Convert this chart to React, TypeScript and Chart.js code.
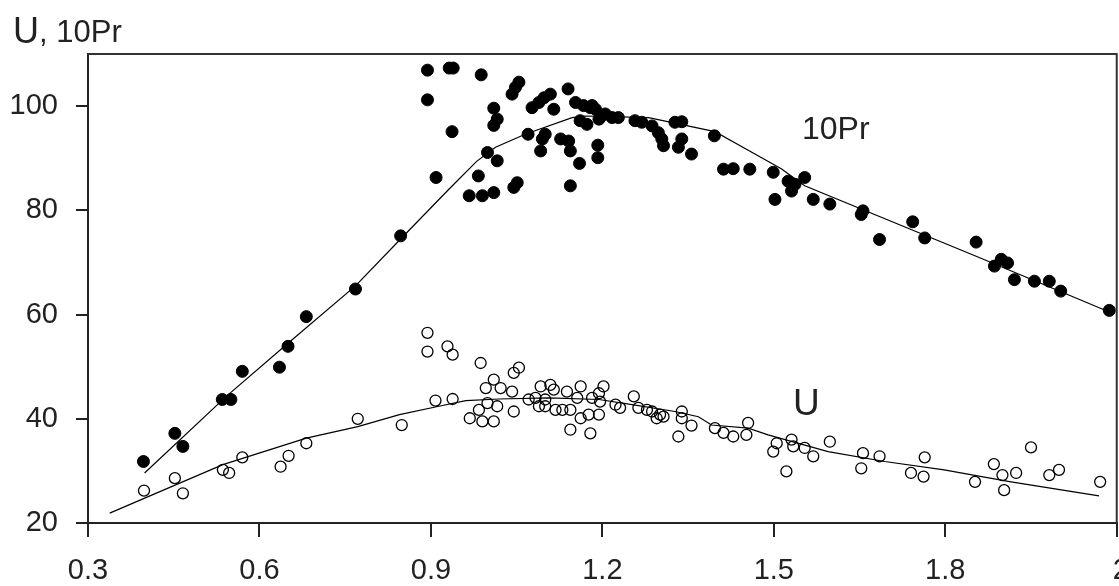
import React, { useEffect, useRef } from "react";
import { Chart, registerables } from "chart.js";

Chart.register(...registerables);

// Tick labels
const xTicks = [0.3, 0.6, 0.9, 1.2, 1.5, 1.8, 2.1];
const yTicks = [20, 40, 60, 80, 100];

// 10Pr (filled circles)
const prX = [
  0.397, 0.452, 0.466, 0.535, 0.55, 0.57, 0.635, 0.65, 0.682, 0.768, 0.847,
  0.894, 0.932, 0.939, 0.894, 0.988, 0.937, 0.909, 0.983, 0.967, 0.99, 1.01,
  1.045, 1.051, 0.999, 1.016, 1.01, 1.016, 1.01, 1.042, 1.048, 1.054, 1.077,
  1.089, 1.098, 1.109, 1.115, 1.07, 1.1, 1.095, 1.092, 1.127, 1.141, 1.144,
  1.14, 1.153, 1.16, 1.144, 1.192, 1.192, 1.161, 1.167, 1.173, 1.179, 1.182,
  1.188, 1.194, 1.196, 1.205, 1.217, 1.228, 1.257, 1.269, 1.287, 1.298, 1.304,
  1.307, 1.327, 1.339, 1.339, 1.333, 1.356, 1.396, 1.412, 1.429, 1.458, 1.499,
  1.502, 1.525, 1.531, 1.537, 1.554, 1.569, 1.598, 1.656, 1.653, 1.685, 1.743,
  1.764, 1.854, 1.886, 1.898, 1.909, 1.921, 1.956, 1.982, 2.002, 2.087,
];
const prY = [
  31.8, 37.2, 34.7, 43.7, 43.7, 49.1, 49.9, 53.9, 59.6, 64.9, 75.1,
  106.9, 107.3, 107.3, 101.2, 106.0, 95.1, 86.3, 86.6, 82.8, 82.8, 83.4,
  84.4, 85.3, 91.1, 89.5, 99.6, 97.5, 96.3, 102.3, 103.6, 104.6, 99.7,
  100.7, 101.6, 102.3, 99.4, 94.6, 94.6, 93.7, 91.4, 93.7, 93.3, 91.4,
  103.3, 100.7, 89.0, 84.7, 92.5, 90.1, 97.2, 100.1, 96.5, 99.7, 100.1,
  99.4, 97.5, 97.8, 98.5, 97.8, 97.8, 97.2, 96.9, 96.2, 94.9, 93.7,
  92.4, 96.9, 97.0, 93.7, 92.1, 90.8, 94.3, 87.9, 88.0, 87.9, 87.3,
  82.1, 85.6, 83.7, 85.0, 86.3, 82.1, 81.2, 79.9, 79.2, 74.4, 77.8,
  74.7, 73.9, 69.3, 70.6, 69.9, 66.7, 66.4, 66.4, 64.5, 60.8,
];

// U (open circles)
const uX = [
  0.398, 0.452, 0.466, 0.536, 0.547, 0.57, 0.637, 0.651, 0.682, 0.772, 0.849,
  0.894, 0.894, 0.929, 0.938, 0.908, 0.938, 0.987, 0.968, 0.99, 1.01, 0.984,
  0.999, 1.016, 0.996, 1.01, 1.022, 1.042, 1.045, 1.045, 1.054, 1.071, 1.083,
  1.092, 1.1, 1.109, 1.115, 1.089, 1.1, 1.118, 1.13, 1.144, 1.138, 1.162,
  1.156, 1.144, 1.162, 1.176, 1.194, 1.179, 1.194, 1.202, 1.196, 1.182, 1.223,
  1.231, 1.255, 1.263, 1.278, 1.287, 1.301, 1.307, 1.295, 1.339, 1.339, 1.356,
  1.333, 1.397, 1.412, 1.429, 1.455, 1.452, 1.499, 1.505, 1.531, 1.534, 1.554,
  1.569, 1.522, 1.598, 1.656, 1.653, 1.685, 1.74, 1.764, 1.762, 1.852, 1.885,
  1.9, 1.903, 1.924, 1.95, 1.982, 1.999, 2.071,
];
const uY = [
  26.2, 28.6, 25.7, 30.2, 29.6, 32.6, 30.8, 32.9, 35.3, 40.0, 38.8,
  56.5, 52.9, 53.9, 52.3, 43.5, 43.8, 50.7, 40.1, 39.5, 39.5, 41.7,
  43.0, 42.4, 45.9, 47.5, 45.9, 45.2, 41.4, 48.8, 49.8, 43.7, 44.0,
  46.2, 43.7, 46.5, 45.6, 42.4, 42.4, 41.7, 41.7, 41.7, 45.2, 46.2,
  44.0, 37.9, 40.1, 40.8, 40.8, 37.2, 44.9, 46.2, 43.3, 44.0, 42.7,
  42.1, 44.3, 42.1, 41.7, 41.4, 40.8, 40.4, 40.1, 41.4, 40.1, 38.7,
  36.6, 38.2, 37.3, 36.6, 39.2, 36.9, 33.7, 35.3, 36.0, 34.7, 34.4,
  32.8, 29.9, 35.6, 33.4, 30.5, 32.8, 29.6, 32.6, 28.9, 27.9, 31.3,
  29.2, 26.3, 29.6, 34.5, 29.2, 30.2, 27.9,
];

// Fitted curves
const prFitX = [0.399, 0.542, 0.65, 0.768, 0.847, 0.931, 0.98, 1.013, 1.065, 1.147, 1.17, 1.281, 1.397, 1.449, 1.513, 1.554, 1.854, 2.085];
const prFitY = [29.6, 44.3, 54.5, 65.5, 74.5, 84.0, 89.4, 92.1, 94.6, 97.8, 98.1, 97.8, 95.1, 91.9, 88.0, 84.7, 71.2, 60.6];
const uFitX = [0.338, 0.536, 0.682, 0.772, 0.845, 0.914, 0.961, 1.019, 1.106, 1.194, 1.252, 1.327, 1.368, 1.391, 1.455, 1.49, 1.595, 1.694, 1.798, 1.915, 2.069];
const uFitY = [21.9, 31.2, 36.3, 38.5, 40.8, 42.4, 43.5, 43.8, 44.0, 43.7, 42.7, 41.4, 40.4, 38.8, 38.2, 36.9, 33.7, 31.8, 30.2, 27.9, 25.2];

const zip = (xs: number[], ys: number[]) => xs.map((x, i) => ({ x, y: ys[i] }));

const FONT = "'Liberation Sans', Arial, sans-serif";
const INK = "#222";

const decorPlugin = {
  id: "decor",
  afterDraw(chart: any) {
    const { ctx, chartArea } = chart;
    ctx.save();
    ctx.strokeStyle = "#333";
    ctx.lineWidth = 2;
    ctx.beginPath();
    ctx.moveTo(chartArea.left, chartArea.top);
    ctx.lineTo(chartArea.right, chartArea.top);
    ctx.lineTo(chartArea.right, chartArea.bottom);
    ctx.stroke();
    ctx.fillStyle = INK;
    ctx.textBaseline = "alphabetic";
    ctx.textAlign = "left";
    ctx.font = `36px ${FONT}`;
    ctx.fillText("U", 13, 43);
    ctx.font = `31px ${FONT}`;
    ctx.fillText(", 10Pr", 39, 42);
    ctx.font = `32px ${FONT}`;
    ctx.fillText("10Pr", 802, 139);
    ctx.font = `37px ${FONT}`;
    ctx.fillText("U", 793, 415);
    ctx.restore();
  },
};

export default function App() {
  const ref = useRef<HTMLCanvasElement>(null);
  useEffect(() => {
    if (!ref.current) return;
    const chart = new Chart(ref.current, {
      type: "scatter",
      data: {
        datasets: [
          {
            label: "10Pr fit",
            data: zip(prFitX, prFitY),
            showLine: true,
            pointRadius: 0,
            borderColor: "#000",
            borderWidth: 1.2,
          },
          {
            label: "U fit",
            data: zip(uFitX, uFitY),
            showLine: true,
            pointRadius: 0,
            borderColor: "#000",
            borderWidth: 1.2,
          },
          {
            label: "10Pr",
            data: zip(prX, prY),
            pointRadius: 6,
            pointBackgroundColor: "#000",
            pointBorderColor: "#000",
            pointBorderWidth: 1,
          },
          {
            label: "U",
            data: zip(uX, uY),
            pointRadius: 5.5,
            pointBackgroundColor: "rgba(0,0,0,0)",
            pointBorderColor: "#000",
            pointBorderWidth: 1.3,
          },
        ],
      },
      options: {
        animation: false,
        responsive: false,
        devicePixelRatio: 1,
        layout: { padding: { left: 0, top: 54, right: 52, bottom: 0 } },
        plugins: { legend: { display: false }, tooltip: { enabled: false } },
        scales: {
          x: {
            type: "linear",
            min: 0.3,
            max: 2.1,
            afterBuildTicks: (s: any) => {
              s.ticks = xTicks.map((v) => ({ value: v }));
            },
            afterFit: (s: any) => {
              s.height = 63;
            },
            ticks: {
              callback: (v: any) => (v >= 2.05 ? "    " : "") + Number(v).toFixed(1),
              autoSkip: false,
              maxRotation: 0,
              padding: 17,
              color: INK,
              font: { family: FONT, size: 29 },
            },
            grid: { drawOnChartArea: false, drawTicks: true, tickLength: 14, color: INK, lineWidth: 2 },
            border: { display: true, color: INK, width: 2 },
          },
          y: {
            type: "linear",
            min: 20,
            max: 110,
            afterBuildTicks: (s: any) => {
              s.ticks = yTicks.map((v) => ({ value: v }));
            },
            afterFit: (s: any) => {
              s.width = 88;
            },
            ticks: {
              padding: 18,
              color: INK,
              font: { family: FONT, size: 29 },
            },
            grid: { drawOnChartArea: false, drawTicks: true, tickLength: 12, color: INK, lineWidth: 2 },
            border: { display: true, color: INK, width: 2 },
          },
        },
      },
      plugins: [decorPlugin],
    } as any);
    return () => chart.destroy();
  }, []);
  return (
    <div
      style={{
        position: "fixed",
        left: 0,
        top: 0,
        width: 1119,
        height: 586,
        overflow: "hidden",
        background: "#fff",
      }}
    >
      <canvas ref={ref} width={1170} height={586} style={{ display: "block" }} />
    </div>
  );
}
